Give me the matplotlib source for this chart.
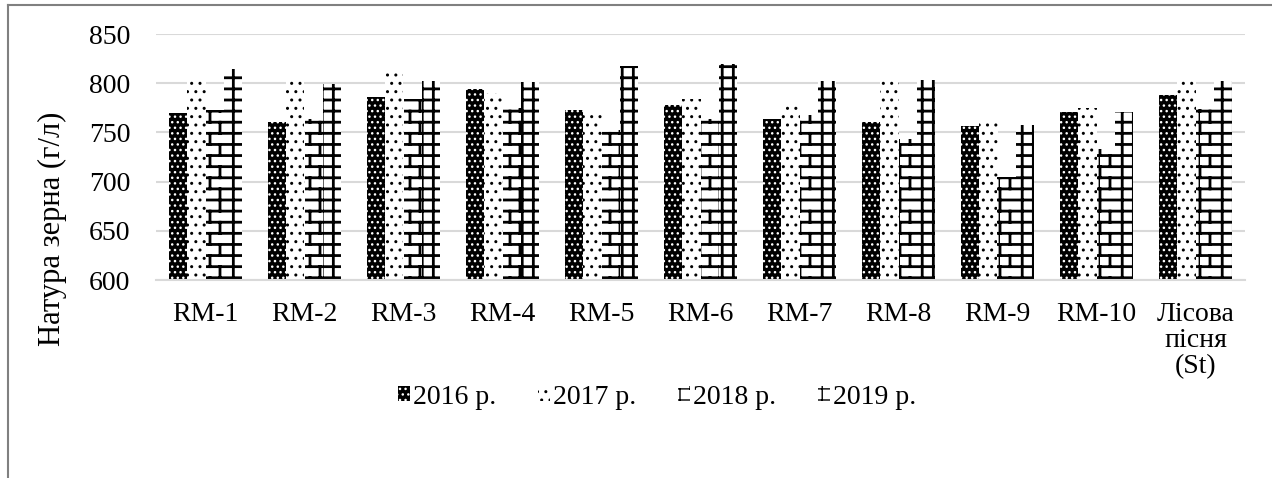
import warnings

import matplotlib

matplotlib.use("Agg")
import matplotlib.hatch as mhatch
import matplotlib.pyplot as plt
import numpy as np

warnings.filterwarnings("ignore")

categories = ["RM-1", "RM-2", "RM-3", "RM-4", "RM-5", "RM-6", "RM-7", "RM-8",
              "RM-9", "RM-10", "Лісова\nпісня\n(St)"]
series_names = ["2016 р.", "2017 р.", "2018 р.", "2019 р."]
v2016 = [770, 761, 786, 794, 773, 778, 764, 761, 757, 771, 788]
v2017 = [802, 804, 812, 790, 773, 784, 781, 802, 762, 775, 805]
v2018 = [773, 764, 784, 775, 752, 764, 768, 743, 705, 733, 774]
v2019 = [814, 799, 802, 801, 817, 820, 802, 803, 758, 771, 802]
y_ticks = [600, 650, 700, 750, 800, 850]


class BrickHatch(mhatch.HatchPatternBase):
    """Brick wall pattern, triggered by 'b' in the hatch string."""

    def __init__(self, hatch, density):
        self.rows = 9 if "b" in hatch else 0
        self.cols = 5
        if self.rows:
            self.num_vertices = (self.rows + 1) * 2 + self.rows * (self.cols + 1) * 2
        else:
            self.num_vertices = 0

    def set_vertices_and_codes(self, vertices, codes):
        k = 0
        for i in range(self.rows + 1):
            y = i / self.rows
            vertices[k] = (0, y)
            vertices[k + 1] = (1, y)
            codes[k] = mhatch.Path.MOVETO
            codes[k + 1] = mhatch.Path.LINETO
            k += 2
        for i in range(self.rows):
            off = 0.5 / self.cols if i % 2 else 0.0
            for j in range(self.cols + 1):
                x = min(j / self.cols + off, 1.0)
                vertices[k] = (x, i / self.rows)
                vertices[k + 1] = (x, (i + 1) / self.rows)
                codes[k] = mhatch.Path.MOVETO
                codes[k + 1] = mhatch.Path.LINETO
                k += 2


class GridHatch(mhatch.HatchPatternBase):
    """Square grid pattern, triggered by 'g' in the hatch string."""

    def __init__(self, hatch, density):
        self.n = 9 if "g" in hatch else 0
        self.num_vertices = (self.n + 1) * 4 if self.n else 0

    def set_vertices_and_codes(self, vertices, codes):
        k = 0
        for i in range(self.n + 1):
            t = i / self.n
            vertices[k:k + 4] = [(0, t), (1, t), (t, 0), (t, 1)]
            codes[k:k + 4] = [mhatch.Path.MOVETO, mhatch.Path.LINETO,
                              mhatch.Path.MOVETO, mhatch.Path.LINETO]
            k += 4


mhatch._hatch_types.append(BrickHatch)
mhatch._hatch_types.append(GridHatch)

plt.rcParams["font.family"] = ["Liberation Serif", "DejaVu Serif"]

fig = plt.figure(figsize=(12.72, 4.78), dpi=100)
ax = fig.add_axes([156 / 1272, 1 - 280 / 478, (1245 - 156) / 1272, (280 - 34) / 478])

x = np.arange(len(categories))
width = 0.182
styles = [
    dict(facecolor="black", edgecolor="white", hatch="...", hlw=1.0),
    dict(facecolor="white", edgecolor="black", hatch="..", hlw=1.0),
    dict(facecolor="white", edgecolor="black", hatch="b", hlw=2.0),
    dict(facecolor="white", edgecolor="black", hatch="g", hlw=2.0),
]
handles = []
for i, (vals, name, st) in enumerate(zip([v2016, v2017, v2018, v2019], series_names, styles)):
    with plt.rc_context({"hatch.linewidth": st["hlw"]}):
        bars = ax.bar(x + (i - 1.5) * width, np.array(vals) - 600, width, bottom=600,
                      facecolor=st["facecolor"], edgecolor=st["edgecolor"],
                      hatch=st["hatch"], linewidth=0, label=name, zorder=2)
    for b in bars:
        if hasattr(b, "set_hatch_linewidth"):
            b.set_hatch_linewidth(st["hlw"])
    handles.append(bars)

ax.set_ylim(600, 850)
ax.set_xlim(-0.5, len(categories) - 0.5)
ax.set_yticks(y_ticks)
ax.set_xticks(x)
ax.set_xticklabels(categories, fontsize=20, linespacing=1.05)
ax.tick_params(axis="y", labelsize=20, length=0, pad=18.5)
ax.tick_params(axis="x", length=0, pad=16)
ax.grid(axis="y", color="#d9d9d9", linewidth=1.5, zorder=0)
ax.set_axisbelow(True)
for s in ["top", "right", "left"]:
    ax.spines[s].set_visible(False)
ax.spines["bottom"].set_color("#d9d9d9")
ax.spines["bottom"].set_linewidth(1.5)

# axis title sits lower than the plot centre, as in the source chart
fig.text(52 / 1272, 1 - 229 / 478, "Натура зерна (г/л)", rotation=90,
         ha="center", va="center", fontsize=22)

fig.legend(handles=handles, labels=series_names, loc="center",
           bbox_to_anchor=(657 / 1272, 1 - 397 / 478), ncol=4, frameon=False,
           fontsize=20, handlelength=0.45, handleheight=0.45,
           handletextpad=0.1, columnspacing=1.5)

# outer chart border (top and left visible)
fig.add_artist(plt.Line2D([8 / 1272, 1.0], [1 - 5 / 478, 1 - 5 / 478],
                          transform=fig.transFigure, color="#808080", linewidth=1.5))
fig.add_artist(plt.Line2D([8 / 1272, 8 / 1272], [0.0, 1 - 5 / 478],
                          transform=fig.transFigure, color="#808080", linewidth=1.5))

fig.savefig("out.png", dpi=100)
